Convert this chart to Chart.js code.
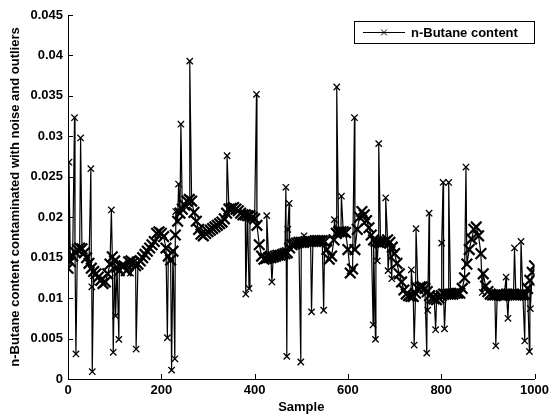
<!DOCTYPE html>
<html><head><meta charset="utf-8">
<script src="https://cdn.jsdelivr.net/npm/chart.js@4/dist/chart.umd.min.js"></script>
<style>html,body{margin:0;padding:0;background:#fff}#wrap{width:553px;height:419px}</style>
</head><body><div id="wrap"><canvas id="c" width="553" height="419"></canvas></div>
<script>
const seriesLabel = 'n-Butane content';
const xTitle = 'Sample';
const yTitle = 'n-Butane content contaminated with noise and outliers';
const xTicks = [0, 200, 400, 600, 800, 1000];
const yTicks = [0, 0.005, 0.01, 0.015, 0.02, 0.025, 0.03, 0.035, 0.04, 0.045];

// underlying trend read every 5 samples (sample = index * 5)
const baseStep = 5;
const baseValues = [
  0.0137, 0.0145, 0.0152, 0.0157, 0.0160, 0.0162, 0.0161, 0.0156, 0.0150, 0.0143,
  0.0137, 0.0133, 0.0130, 0.0126, 0.0122, 0.0118, 0.0120, 0.0130, 0.0142, 0.0151,
  0.0146, 0.0138, 0.0134, 0.0140, 0.0140, 0.0134, 0.0145, 0.0146, 0.0144, 0.0140,
  0.0142, 0.0146, 0.0150, 0.0154, 0.0158, 0.0162, 0.0166, 0.0170, 0.0180, 0.0182,
  0.0180, 0.0176, 0.0162, 0.0152, 0.0147, 0.0158, 0.0178, 0.0195, 0.0205, 0.0210,
  0.0215, 0.0220, 0.0222, 0.0220, 0.0206, 0.0195, 0.0185, 0.0179, 0.0177, 0.0180,
  0.0182, 0.0184, 0.0186, 0.0188, 0.0190, 0.0192, 0.0194, 0.0198, 0.0205, 0.0210,
  0.0211, 0.0212, 0.0210, 0.0208, 0.0205, 0.0203, 0.0203, 0.0202, 0.0202, 0.0200,
  0.0198, 0.0190, 0.0166, 0.0152, 0.0148, 0.0149, 0.0150, 0.0150, 0.0151, 0.0152,
  0.0153, 0.0153, 0.0154, 0.0155, 0.0156, 0.0162, 0.0166, 0.0167, 0.0168, 0.0169,
  0.0169, 0.0169, 0.0170, 0.0170, 0.0170, 0.0170, 0.0171, 0.0171, 0.0171, 0.0171,
  0.0170, 0.0160, 0.0148, 0.0152, 0.0172, 0.0180, 0.0182, 0.0182, 0.0182, 0.0181,
  0.0160, 0.0131, 0.0136, 0.0160, 0.0185, 0.0200, 0.0207, 0.0203, 0.0196, 0.0187,
  0.0178, 0.0172, 0.0170, 0.0169, 0.0168, 0.0169, 0.0170, 0.0172, 0.0169, 0.0163,
  0.0155, 0.0143, 0.0130, 0.0120, 0.0110, 0.0105, 0.0103, 0.0102, 0.0102, 0.0106,
  0.0112, 0.0114, 0.0114, 0.0112, 0.0108, 0.0103, 0.0100, 0.0099, 0.0098, 0.0100,
  0.0103, 0.0105, 0.0105, 0.0105, 0.0105, 0.0105, 0.0106, 0.0106, 0.0106, 0.0112,
  0.0125, 0.0142, 0.0160, 0.0173, 0.0185, 0.0188, 0.0177, 0.0155, 0.0130, 0.0115,
  0.0108, 0.0105, 0.0104, 0.0104, 0.0104, 0.0104, 0.0103, 0.0103, 0.0105, 0.0105,
  0.0105, 0.0105, 0.0104, 0.0104, 0.0104, 0.0104, 0.0104, 0.0112, 0.0122, 0.0132,
  0.0140
];
const outlierSamples = [
  2, 14, 17, 27, 49, 51, 52, 93, 97, 102,
  109, 134, 146, 213, 222, 229, 231, 237, 242, 261,
  341, 381, 388, 404, 426, 437, 467, 469, 471, 474,
  499, 506, 522, 548, 571, 576, 586, 614, 654, 659,
  663, 666, 681, 686, 694, 736, 742, 746, 769, 771,
  774, 788, 801, 804, 807, 816, 853, 888, 917, 939,
  943, 957, 971, 979, 989, 991
];
const outlierValues = [
  0.0268, 0.0323, 0.0031, 0.0298, 0.0260, 0.0114, 0.0009, 0.0209, 0.0033, 0.0078,
  0.0049, 0.0131, 0.0037, 0.0051, 0.0011, 0.0025, 0.0207, 0.0241, 0.0315, 0.0393,
  0.0276, 0.0105, 0.0112, 0.0352, 0.0202, 0.0120, 0.0237, 0.0028, 0.0185, 0.0217,
  0.0021, 0.0177, 0.0083, 0.0085, 0.0197, 0.0361, 0.0226, 0.0323, 0.0067, 0.0049,
  0.0146, 0.0291, 0.0224, 0.0134, 0.0124, 0.0135, 0.0042, 0.0186, 0.0032, 0.0085,
  0.0205, 0.0061, 0.0168, 0.0243, 0.0062, 0.0243, 0.0262, 0.0107, 0.0041, 0.0126,
  0.0075, 0.0162, 0.0170, 0.0047, 0.0034, 0.0087
];

const points = baseValues.map((v, i) => ({x: i * baseStep, y: v, o: false}))
  .concat(outlierSamples.map((s, i) => ({x: s, y: outlierValues[i], o: true})))
  .sort((a, b) => a.x - b.x);

const FONT = 'Arial, "Liberation Sans", Helvetica, sans-serif';

const inwardTicks = {
  id: 'inwardTicks',
  afterDraw(chart) {
    const {ctx, chartArea: a, scales: {x, y}} = chart;
    ctx.save();
    ctx.strokeStyle = '#000';
    ctx.lineWidth = 1;
    ctx.beginPath();
    xTicks.forEach(v => {
      const px = Math.round(x.getPixelForValue(v)) + 0.5;
      ctx.moveTo(px, a.bottom);
      ctx.lineTo(px, a.bottom - 5);
    });
    yTicks.forEach(v => {
      const py = Math.round(y.getPixelForValue(v)) + 0.5;
      ctx.moveTo(a.left, py);
      ctx.lineTo(a.left + 5, py);
    });
    ctx.stroke();
    ctx.restore();
  }
};

const boxLegend = {
  id: 'boxLegend',
  afterDraw(chart) {
    const {ctx} = chart;
    const ds = chart.data.datasets[0];
    const bx = 354.5, by = 21.5, bw = 180, bh = 22;
    ctx.save();
    ctx.fillStyle = '#fff';
    ctx.fillRect(bx, by, bw, bh);
    ctx.strokeStyle = '#000';
    ctx.lineWidth = 1;
    ctx.strokeRect(bx, by, bw, bh);
    const cy = by + bh / 2;
    ctx.beginPath();
    ctx.moveTo(363, cy);
    ctx.lineTo(405, cy);
    ctx.stroke();
    Chart.helpers.drawPoint(ctx, {pointStyle: 'crossRot', radius: 4, borderWidth: 1}, 384, cy);
    ctx.fillStyle = '#000';
    ctx.font = 'bold 13px ' + FONT;
    ctx.textBaseline = 'middle';
    ctx.textAlign = 'left';
    ctx.fillText(ds.label, 411, cy + 0.5);
    ctx.restore();
  }
};

new Chart(document.getElementById('c'), {
  type: 'line',
  data: {
    datasets: [{
      label: seriesLabel,
      data: points,
      borderColor: '#000',
      backgroundColor: '#000',
      borderWidth: 1.2,
      pointStyle: 'crossRot',
      pointRadius: c => (c.raw && c.raw.o) ? 4.5 : 7.5,
      pointBorderWidth: c => (c.raw && c.raw.o) ? 1.3 : 2.2,
      pointBorderColor: '#000',
      fill: false,
      tension: 0
    }]
  },
  options: {
    responsive: false,
    animation: false,
    devicePixelRatio: 1,
    layout: {padding: {top: 15, right: 16, left: 0, bottom: 0}},
    plugins: {legend: {display: false}, tooltip: {enabled: false}},
    scales: {
      x: {
        type: 'linear', min: 0, max: 1000,
        afterBuildTicks: s => { s.ticks = xTicks.map(v => ({value: v})); },
        afterFit: s => { s.height = 40; },
        grid: {display: false, drawTicks: false},
        border: {display: true, color: '#000', width: 1},
        ticks: {color: '#000', font: {family: FONT, size: 13, weight: 'bold'}, padding: 4, maxRotation: 0,
          callback: v => String(v)},
        title: {display: true, text: xTitle, color: '#000', font: {family: FONT, size: 13, weight: 'bold'}, padding: {top: 0, bottom: 4}}
      },
      y: {
        type: 'linear', min: 0, max: 0.045,
        afterBuildTicks: s => { s.ticks = yTicks.map(v => ({value: v})); },
        afterFit: s => { s.width = 68; },
        grid: {display: false, drawTicks: false},
        border: {display: true, color: '#000', width: 1},
        ticks: {color: '#000', font: {family: FONT, size: 13, weight: 'bold'}, padding: 5,
          callback: v => String(+Number(v).toFixed(3))},
        title: {display: true, text: yTitle, color: '#000', font: {family: FONT, size: 13, weight: 'bold'}, padding: {top: 8, bottom: 0}}
      }
    }
  },
  plugins: [inwardTicks, boxLegend]
});
</script>
</body></html>
